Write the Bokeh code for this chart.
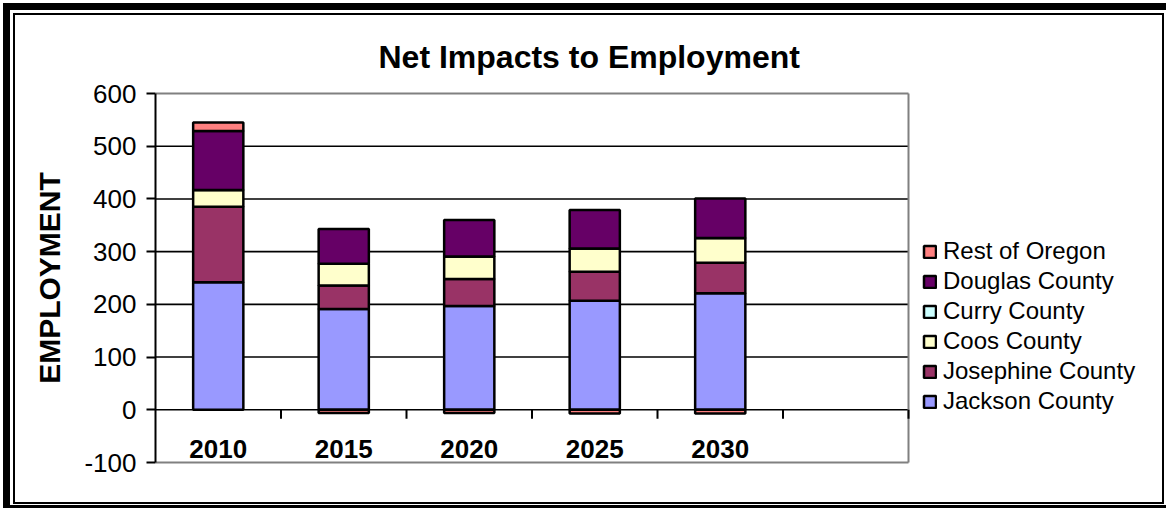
from bokeh.plotting import figure
from bokeh.models import (Range1d, FixedTicker, Legend, LegendItem,
                          ColumnDataSource, InlineStyleSheet)
from bokeh.core.properties import value
from bokeh.embed import file_html
from bokeh.resources import INLINE

# ---- data ----
years = ["2010", "2015", "2020", "2025", "2030"]
series_names = ["Jackson County", "Josephine County", "Coos County",
                "Curry County", "Douglas County", "Rest of Oregon"]
jackson = [242, 191, 197, 207, 221]
josephine = [143, 45, 51, 55, 58]
coos = [32, 41, 43, 44, 47]
curry = [0, 0, 0, 0, 0]
douglas = [112, 66, 69, 73, 75]
rest_of_oregon = [16, -6, -6, -7, -7]
y_ticks = [-100, 0, 100, 200, 300, 400, 500, 600]
grid_values = [0, 100, 200, 300, 400, 500]

series_values = [jackson, josephine, coos, curry, douglas, rest_of_oregon]
colors = ["#9999FF", "#993366", "#FFFFCC", "#CCFFFF", "#660066", "#FF8080"]

FONT = "Liberation Sans"
W, H = 1166, 508
# plot-area box of the chart (px) and the wider drawing frame
PL, PR, PT, PB = 155, 908, 93, 462
FRAME_R = 1160
PAD = 3  # px of extra frame above/below the plot area

ymin, ymax = y_ticks[0], y_ticks[-1]
units_per_px = (ymax - ymin) / (PB - PT)
pad_u = PAD * units_per_px

n_slots = len(years) + 1
xs = [i + 0.5 for i in range(len(years))]
x_end = n_slots * (FRAME_R - PL) / (PR - PL)

p = figure(width=W, height=H, output_backend="svg", toolbar_location=None,
           x_range=Range1d(0, x_end), y_range=Range1d(ymin - pad_u, ymax + pad_u),
           x_axis_location=None,
           min_border_left=PL, min_border_right=W - FRAME_R,
           min_border_top=PT - PAD, min_border_bottom=H - PB - PAD)
p.background_fill_color = "white"
p.border_fill_color = "white"
p.outline_line_color = None

# title
p.title.text = "Net Impacts to Employment"
p.title.text_font = FONT
p.title.text_font_size = "32px"
p.title.text_font_style = "bold"
p.title.text_color = "black"
p.title.align = "left"
p.title.offset = 223
p.title.standoff = 32

p.xgrid.visible = False
p.ygrid.visible = False

ax = p.yaxis[0]
ax.bounds = (ymin, ymax)
ax.ticker = FixedTicker(ticks=y_ticks)
ax.major_label_overrides = {t: str(t) for t in y_ticks}
ax.major_label_text_font = FONT
ax.major_label_text_font_size = "26px"
ax.major_label_text_color = "black"
ax.major_tick_out = 9
ax.major_tick_in = 0
ax.minor_tick_out = 0
ax.minor_tick_in = 0
ax.major_tick_line_width = 2
ax.major_tick_line_color = "black"
ax.axis_line_width = 2
ax.axis_line_color = "black"
ax.major_label_standoff = 10
ax.axis_label = "EMPLOYMENT"
ax.axis_label_text_font = FONT
ax.axis_label_text_font_size = "30px"
ax.axis_label_text_font_style = "bold"
ax.axis_label_text_color = "black"
ax.axis_label_standoff = 15

# horizontal gridlines across the plot area
p.segment(x0=[0] * len(grid_values), y0=grid_values,
          x1=[n_slots] * len(grid_values), y1=grid_values,
          line_color="black", line_width=1.6)
# grey plot-area border (top, bottom, right)
p.segment(x0=[0, 0, n_slots], y0=[ymax, ymin, ymin],
          x1=[n_slots, n_slots, n_slots], y1=[ymax, ymin, ymax],
          line_color="#808080", line_width=2)

# ---- stacked bars (positives up, negatives down) ----
pos = [0] * len(years)
neg = [0] * len(years)
renderers = []
for name, vals, col in zip(series_names, series_values, colors):
    bottoms, tops = [], []
    for i, v in enumerate(vals):
        if v >= 0:
            bottoms.append(pos[i]); tops.append(pos[i] + v); pos[i] += v
        else:
            tops.append(neg[i]); bottoms.append(neg[i] + v); neg[i] += v
    src = ColumnDataSource(dict(x=xs, bottom=bottoms, top=tops))
    r = p.vbar(x="x", bottom="bottom", top="top", width=0.4, source=src,
               fill_color=col, line_color="black", line_width=2.5)
    renderers.append(r)

# category axis ticks on the zero line
bounds = list(range(1, n_slots + 1))
p.segment(x0=bounds, y0=[0] * len(bounds), x1=bounds, y1=[-17] * len(bounds),
          line_color="black", line_width=2)

# category labels
p.text(x=xs, y=-75, text=years, text_font=value(FONT), text_font_style="bold",
       text_font_size="26px", text_align="center", text_baseline="middle",
       text_color="black")

# ---- legend (inside the wide frame, right of the plot area) ----
items = [LegendItem(label=n, renderers=[r])
         for n, r in reversed(list(zip(series_names, renderers)))]
legend = Legend(items=items, location=(922 - PL, 50), orientation="vertical",
                glyph_width=15, glyph_height=15, label_standoff=6,
                spacing=2, padding=0, margin=0, label_height=24,
                border_line_alpha=0, background_fill_alpha=0,
                label_text_font=FONT, label_text_font_size="24px",
                label_text_color="black")
p.add_layout(legend, "center")

# ---- outer double frame (drawn with CSS over the canvas) ----
css = """
:host { position: relative; }
:host::after {
  content: ""; position: absolute; left: 3px; top: 3px;
  width: 1163px; height: 505px; box-sizing: border-box;
  border-style: solid; border-color: black; border-width: 7px 0 3px 7px;
  pointer-events: none; z-index: 10;
}
:host::before {
  content: ""; position: absolute; left: 13px; top: 13px;
  width: 1151px; height: 491px; box-sizing: border-box;
  border: 2px solid black; pointer-events: none; z-index: 10;
}
"""
p.stylesheets = [InlineStyleSheet(css=css)]

open("out.html", "w").write(file_html(p, INLINE))
